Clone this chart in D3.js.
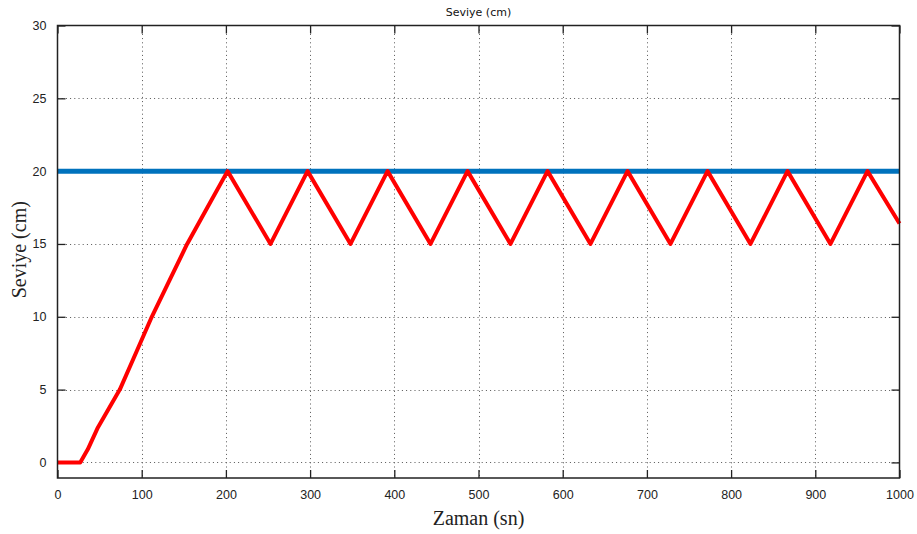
<!DOCTYPE html>
<html>
<head>
<meta charset="utf-8">
<script src="https://cdn.jsdelivr.net/npm/d3@7"></script>
<style>
  html, body { margin: 0; padding: 0; background: #fff; }
  svg { display: block; }
</style>
</head>
<body>
<svg id="chart" width="917" height="534"></svg>
<script>
// Tank level (red) and set point (blue), time in seconds
const levelTime  = [0, 27, 36, 48, 61, 74, 93, 112, 133, 154, 178, 202, 253, 297, 348, 392, 443, 487, 538, 582, 633, 677, 728, 772, 823, 867, 918, 962, 1000];
const levelValue = [0, 0, 0.9, 2.4, 3.7, 5, 7.5, 10, 12.5, 15, 17.5, 20, 15, 20, 15, 20, 15, 20, 15, 20, 15, 20, 15, 20, 15, 20, 15, 20, 16.4];
const setTime  = [0, 1000];
const setValue = [20, 20];
const xTicks = [0, 100, 200, 300, 400, 500, 600, 700, 800, 900, 1000];
const yTicks = [0, 5, 10, 15, 20, 25, 30];

const svg = d3.select("#chart");
const m = { left: 57.5, right: 899.5, top: 25.5, bottom: 478 };
const x = d3.scaleLinear().domain([0, 1000]).range([m.left, m.right]);
const y = d3.scaleLinear().domain([-1.07, 30]).range([m.bottom, m.top]);
const W = m.right - m.left, H = m.bottom - m.top;

// dotted grid
const grid = svg.append("g").attr("stroke", "#555").attr("stroke-width", 1)
  .attr("stroke-dasharray", "1,3.2");
grid.selectAll(".gx").data(xTicks.slice(1, -1)).join("line")
  .attr("x1", d => Math.round(x(d)) + 0.5).attr("x2", d => Math.round(x(d)) + 0.5)
  .attr("y1", m.top).attr("y2", m.bottom);
grid.selectAll(".gy").data(yTicks.slice(0, -1)).join("line")
  .attr("y1", d => Math.round(y(d)) + 0.5).attr("y2", d => Math.round(y(d)) + 0.5)
  .attr("x1", m.left).attr("x2", m.right);

// axes with inward ticks on all four sides
const tk = 8;
const axFont = "Liberation Sans, Arial, sans-serif";
const fmt = d3.format("d");
const axBottom = svg.append("g").attr("transform", `translate(0,${m.bottom})`)
  .call(d3.axisBottom(x).tickValues(xTicks).tickFormat(fmt).tickSize(-tk).tickPadding(tk + 4).tickSizeOuter(0));
const axTop = svg.append("g").attr("transform", `translate(0,${m.top})`)
  .call(d3.axisTop(x).tickValues(xTicks).tickSize(-tk).tickFormat("").tickSizeOuter(0));
const axLeft = svg.append("g").attr("transform", `translate(${m.left},0)`)
  .call(d3.axisLeft(y).tickValues(yTicks).tickFormat(fmt).tickSize(-tk).tickPadding(tk + 3).tickSizeOuter(0));
const axRight = svg.append("g").attr("transform", `translate(${m.right},0)`)
  .call(d3.axisRight(y).tickValues(yTicks).tickSize(-tk).tickFormat("").tickSizeOuter(0));
[axBottom, axTop, axLeft, axRight].forEach(g => {
  g.select(".domain").remove();
  g.selectAll(".tick line").attr("stroke", "#222").attr("stroke-width", 1.3);
  g.selectAll("text").attr("font-family", axFont).attr("font-size", 12.5).attr("fill", "#222");
});

// lines
const line = d3.line().x(d => x(d[0])).y(d => y(d[1]));
svg.append("path").datum(d3.zip(setTime, setValue))
  .attr("d", line).attr("fill", "none").attr("stroke", "#0072BD").attr("stroke-width", 5);
svg.append("path").datum(d3.zip(levelTime, levelValue))
  .attr("d", line).attr("fill", "none").attr("stroke", "#ff0000").attr("stroke-width", 4)
  .attr("stroke-linejoin", "round");

// frame
svg.append("rect").attr("x", m.left).attr("y", m.top).attr("width", W).attr("height", H)
  .attr("fill", "none").attr("stroke", "#222").attr("stroke-width", 1.5);

// titles
svg.append("text").attr("x", (m.left + m.right) / 2).attr("y", 16).attr("text-anchor", "middle")
  .attr("font-family", "DejaVu Sans, sans-serif").attr("font-size", 11).attr("fill", "#111")
  .text("Seviye (cm)");
svg.append("text").attr("x", (m.left + m.right) / 2).attr("y", 525).attr("text-anchor", "middle")
  .attr("font-family", "Liberation Serif, Times New Roman, serif").attr("font-size", 20).attr("fill", "#222")
  .text("Zaman (sn)");
svg.append("text").attr("transform", `translate(26,${(m.top + m.bottom) / 2 - 2}) rotate(-90)`)
  .attr("text-anchor", "middle")
  .attr("font-family", "Liberation Serif, Times New Roman, serif").attr("font-size", 20).attr("fill", "#222")
  .text("Seviye (cm)");
</script>
</body>
</html>
